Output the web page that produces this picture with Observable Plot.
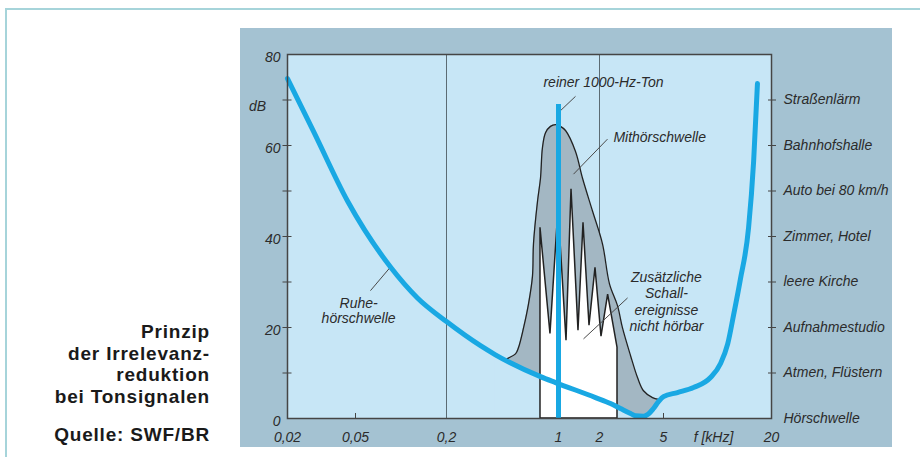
<!DOCTYPE html>
<html>
<head>
<meta charset="utf-8">
<script src="https://cdn.jsdelivr.net/npm/d3@7"></script>
<script src="https://cdn.jsdelivr.net/npm/@observablehq/plot@0.6"></script>
<style>
  html, body { margin: 0; padding: 0; background: #ffffff; width: 920px; height: 457px; overflow: hidden; }
  #border { position: absolute; left: 5px; top: 8px; width: 940px; height: 480px;
            border-top: 2px solid #a6d4da; border-left: 2px solid #a6d4da; }
  #chart { position: absolute; left: 240px; top: 28px; }
  .side { position: absolute; right: 710px; text-align: right; color: #1a1a1a;
          font: bold 19px "Liberation Sans", Arial, Helvetica, sans-serif; letter-spacing: 0.8px; line-height: 21.7px; white-space: nowrap; }
</style>
</head>
<body>
<div id="border"></div>
<div class="side" id="title" style="top:321px"></div>
<div class="side" id="source" style="top:424px"></div>
<div id="chart"></div>
<script>
// ---------- data ----------
const titleLines = ["Prinzip", "der Irrelevanz-", "reduktion", "bei Tonsignalen"];
const sourceText = "Quelle: SWF/BR";

// Ruhehörschwelle (threshold in quiet): frequency [kHz], level [dB]
const ruheF  = [0.02, 0.0284, 0.0449, 0.0852, 0.1285, 0.2, 0.326, 0.404, 0.772, 0.958, 1.869, 2.341, 2.70, 3.12, 3.35, 3.754, 4.03, 4.33, 4.654, 5.0, 5.98, 7.35, 9.14, 10.4, 11.4, 12.3, 13.4, 14.9, 15.9, 16.7];
const ruheDB = [74.7, 63.1, 47.8, 33.3, 26.5, 21.3, 16.0, 14.0, 9.2, 7.9, 4.6, 3.3, 2.2, 1.1, 0.6, 0.5, 1.0, 2.2, 3.7, 4.8, 5.7, 6.8, 9.0, 12.1, 16.4, 22.8, 30.5, 41.9, 56.5, 73.6];

// Mithörschwelle (masking threshold)
const mithF  = [0.467, 0.481, 0.539, 0.563, 0.605, 0.650, 0.688, 0.698, 0.740, 0.772, 0.794, 0.830, 0.891, 0.958, 1.034, 1.126, 1.333, 1.501, 1.777, 2.087, 2.307, 2.588, 2.780, 3.12, 3.446, 3.754, 4.272, 4.654];
const mithDB = [12.9, 13.2, 14.2, 15.6, 19.9, 25.2, 31.3, 38.4, 47.8, 52.8, 59.5, 62.8, 64.2, 64.6, 64.2, 63.3, 58.7, 52.8, 45.6, 38.4, 29.6, 24.8, 19.9, 13.8, 9.0, 6.1, 4.6, 4.2];

// additional (masked) sound events
const spikeF  = [0.772, 0.891, 1.0, 1.145, 1.246, 1.402, 1.526, 1.689, 1.869, 2.058, 2.263, 2.588];
const spikeDB = [41.9, 18.6, 46.2, 17.1, 50.4, 19.3, 43.0, 20.4, 33.1, 18.0, 27.2, 15.6];

// pure 1000 Hz tone
const toneF = [1];
const toneDB = [69];

// grid lines
const gridF = [0.2, 2];

// axes
const xTicks  = [0.02, 0.05, 0.2, 1, 2, 5, 20];
const xLabels = ["0,02", "0,05", "0,2", "1", "2", "5", "20"];
const xMinor  = [0.05, 5];
const yLabelTicks = [0, 20, 40, 60, 80];
const yTicks = [10, 20, 30, 40, 50, 60, 70];
const rightDB = [0, 10, 20, 30, 40, 50, 60, 70];
const rightLabels = ["Hörschwelle", "Atmen, Flüstern", "Aufnahmestudio", "leere Kirche", "Zimmer, Hotel", "Auto bei 80 km/h", "Bahnhofshalle", "Straßenlärm"];

// annotations
const noteText = ["reiner 1000-Hz-Ton", "Mithörschwelle", "Ruhe-\nhörschwelle", "Zusätzliche\nSchall-\nereignisse\nnicht hörbar"];
const noteF  = [2.118, 2.44, 0.0524, 5.19];
const noteDB = [73.9, 61.8, 23.7, 25.75];
const leadF1  = [1.333, 2.242, 0.0852, 2.99];
const leadDB1 = [70.8, 61.4, 33.3, 26.5];
const leadF2  = [0.99, 1.289, 0.0628, 1.526];
const leadDB2 = [67.1, 53.7, 28.1, 17.5];

// ---------- build ----------
document.getElementById("title").innerHTML = titleLines.join("<br>");
document.getElementById("source").textContent = sourceText;

const ruhe = ruheF.map((f, i) => ({f, db: ruheDB[i]}));
const mith = mithF.map((f, i) => ({f, db: mithDB[i]}));
const spikes = spikeF.map((f, i) => ({f, db: spikeDB[i]}));
const tone = toneF.map((f, i) => ({f, db: toneDB[i]}));
const notes = noteText.map((t, i) => ({t, f: noteF[i], db: noteDB[i]}));
const leads = leadF1.map((f, i) => ({f1: f, d1: leadDB1[i], f2: leadF2[i], d2: leadDB2[i]}));
const xlab = xTicks.map((f, i) => ({f, t: xLabels[i]}));

const BLUE = "#19a8e3";
const BG = "#c7e6f6";
const INK = "#2b2b2b";
const AX = "#454545";

const chart = Plot.plot({
  width: 652,
  height: 419,
  marginLeft: 47,
  marginRight: 121,
  marginTop: 26,
  marginBottom: 29,
  style: "background:#a4c2d2; font-family:'Liberation Sans', Arial, Helvetica, sans-serif; font-size:14px; font-style:italic; color:#2b2b2b;",
  x: {type: "log", domain: xTicks, range: [47, 115, 206, 318, 359, 423, 531], label: null, axis: null},
  y: {domain: [0, 80], label: null},
  marks: [
    Plot.frame({fill: BG}),
    Plot.ruleX(gridF, {stroke: "#5b6b73", strokeWidth: 1}),
    Plot.areaY(mith, {x: "f", y: "db", fill: "#a3b7c3", curve: "catmull-rom"}),
    Plot.areaY(ruhe, {x: "f", y: "db", fill: BG, curve: "monotone-x", filter: d => d.f >= 0.4 && d.f <= 5}),
    Plot.line(mith, {x: "f", y: "db", stroke: "#222", strokeWidth: 1.3, curve: "catmull-rom"}),
    Plot.areaY(spikes, {x: "f", y: "db", fill: "white", stroke: "#222", strokeWidth: 1.5, strokeLinejoin: "miter"}),
    Plot.link(leads, {x1: "f1", y1: "d1", x2: "f2", y2: "d2", stroke: "#4a4a4a", strokeWidth: 1}),
    Plot.ruleX(xMinor, {x: d => d, y1: 0, y2: 1.1, stroke: AX, strokeWidth: 1}),
    Plot.ruleX(tone, {x: "f", y1: 0, y2: "db", stroke: BLUE, strokeWidth: 5}),
    Plot.line(ruhe, {x: "f", y: "db", stroke: BLUE, strokeWidth: 5, curve: "monotone-x"}),
    Plot.text(notes.slice(0, 1), {x: "f", y: "db", text: "t", textAnchor: "middle", fill: INK}),
    Plot.text(notes.slice(1, 2), {x: "f", y: "db", text: "t", textAnchor: "start", fill: INK}),
    Plot.text(notes.slice(2, 3), {x: "f", y: "db", text: "t", textAnchor: "middle", lineHeight: 1.07, fill: INK}),
    Plot.text(notes.slice(3, 4), {x: "f", y: "db", text: "t", textAnchor: "middle", lineHeight: 1.18, fill: INK}),
    Plot.text(["dB"], {x: [0.02], y: [68.6], text: d => d, dx: -30, fill: INK}),
    Plot.text(["f [kHz]"], {x: [9.5], y: [0], text: d => d, dy: 19, fill: INK}),
    Plot.text(xlab, {x: "f", y: 0, text: "t", dy: 19, fill: INK}),
    Plot.axisY({anchor: "left", ticks: yLabelTicks, tickFormat: d => String(d), tickSize: 0, tickPadding: 7, dy: 3, label: null}),
    Plot.axisY({anchor: "left", ticks: yTicks, tickFormat: () => "", tickSize: 9, dx: 4.5, stroke: AX, label: null}),
    Plot.axisY({anchor: "right", ticks: rightDB, tickFormat: d => rightLabels[rightDB.indexOf(d)], tickSize: 0, tickPadding: 12, label: null}),
    Plot.axisY({anchor: "right", ticks: yTicks, tickFormat: () => "", tickSize: 8, dx: -4, stroke: AX, label: null}),
    Plot.frame({stroke: AX, strokeWidth: 1.5})
  ]
});
document.getElementById("chart").appendChild(chart);
</script>
</body>
</html>
